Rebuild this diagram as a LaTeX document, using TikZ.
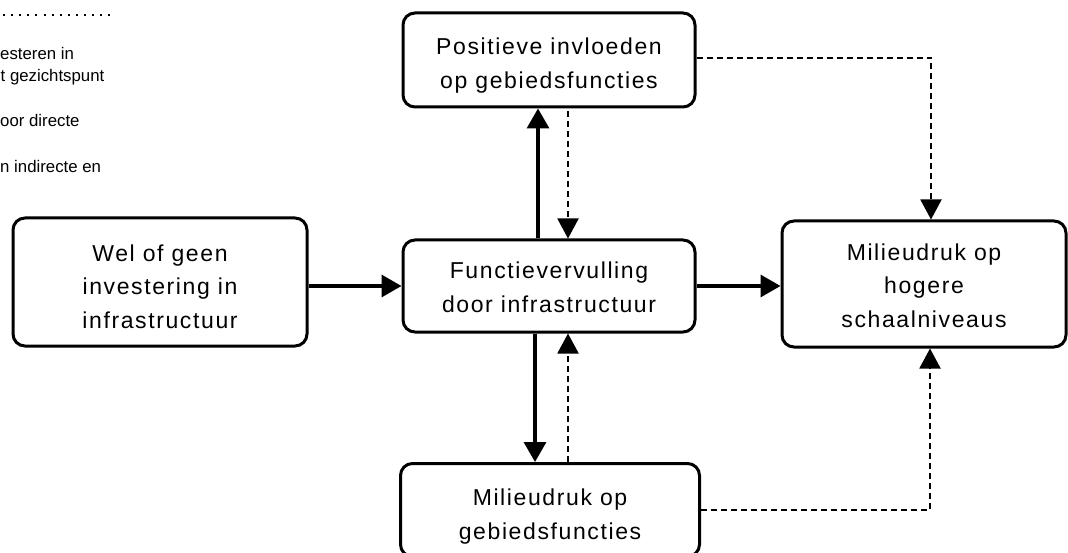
\documentclass[tikz,border=0pt]{standalone}
\usepackage{fontspec}
\setmainfont{Liberation Sans}
\newfontfamily\boxfont{Liberation Sans}[LetterSpace=7]
\usetikzlibrary{arrows.meta}
\newcommand\boxtxt[2]{\raisebox{-#1pt}[\height][\depth]{\begin{tabular}{@{}c@{}}#2\end{tabular}}}
\begin{document}
\begin{tikzpicture}[x=1pt,y=-1pt,
  box/.style={draw,line width=3pt,rounded corners=12pt,inner sep=0pt,
    font=\boxfont\fontsize{23}{33.5}\selectfont},
  solidarrow/.style={line width=3.4pt,-{Triangle[length=20pt,width=22pt]}},
  dasharrow/.style={line width=1.9pt,dash pattern=on 6pt off 4pt,-{Triangle[length=20pt,width=21pt]}},
  legend/.style={anchor=base west,inner sep=0pt,font=\fontsize{16.8}{20}\selectfont}]
\useasboundingbox (0,0) rectangle (1068,553);
% legend (partly out of frame)
\coordinate (dotA) at (3,15);
\coordinate (dotB) at (112,15);
\draw[line width=2pt,dash pattern=on 2pt off 6.1pt] (dotA) -- (dotB);
\node[legend] (lg1) at (0,60) {esteren in};
\node[legend] (lg2) at (0.5,82) {t gezichtspunt};
\node[legend] (lg3) at (0,127) {oor directe};
\node[legend] (lg4) at (0,173) {n indirecte en};
% boxes
\node[box,minimum width=294pt,minimum height=128pt] (L) at (160,282) {\boxtxt{6}{Wel of geen\\investering in\\infrastructuur}};
\node[box,minimum width=292pt,minimum height=94pt] (T) at (549,60) {\boxtxt{5}{Positieve invloeden\\op gebiedsfuncties}};
\node[box,minimum width=292pt,minimum height=92pt] (M) at (549,286) {\boxtxt{3}{Functievervulling\\door infrastructuur}};
\node[box,minimum width=284pt,minimum height=126pt] (R) at (924,284) {\boxtxt{3}{Milieudruk op\\hogere\\schaalniveaus}};
\node[box,minimum width=299pt,minimum height=93pt] (B) at (550,510) {\boxtxt{6}{Milieudruk op\\gebiedsfuncties}};
% solid connectors
\draw[solidarrow] (M.west -| L.east) -- (M.west);
\draw[solidarrow] (M.east) -- (M.east -| R.west);
\draw[solidarrow] ([xshift=-11pt]M.north) -- ([xshift=-11pt]M.north |- T.south);
\draw[solidarrow] ([xshift=-14pt]M.south) -- ([xshift=-14pt]M.south |- B.north);
% dashed connectors
\draw[dasharrow] ([xshift=19pt,yshift=-3pt]T.south) -- ([xshift=19pt]M.north);
\draw[dasharrow] ([xshift=19pt]M.south |- B.north) -- ([xshift=19pt]M.south);
\draw[dasharrow] ([yshift=2pt]T.east) -| ([xshift=7pt]R.north);
\draw[dasharrow] (B.east) -| ([xshift=6pt]R.south);
\end{tikzpicture}
\end{document}
